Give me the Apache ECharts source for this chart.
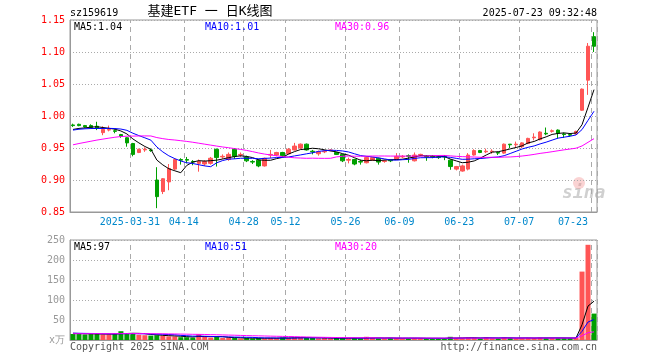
<!DOCTYPE html>
<html><head><meta charset="utf-8">
<script src="https://cdn.jsdelivr.net/npm/echarts@6/dist/echarts.min.js"></script>
<style>html,body{margin:0;padding:0;background:#fff}#c{width:660px;height:360px}</style>
</head><body><div id="c"></div>
<script>
// ---- data ----
const dates = ['2025-03-17','2025-03-18','2025-03-19','2025-03-20','2025-03-21','2025-03-24','2025-03-25','2025-03-26','2025-03-27','2025-03-28','2025-03-31',
'2025-04-01','2025-04-02','2025-04-03','2025-04-07','2025-04-08','2025-04-09','2025-04-10','2025-04-11','2025-04-14','2025-04-15','2025-04-16','2025-04-17','2025-04-18','2025-04-21','2025-04-22','2025-04-23','2025-04-24','2025-04-25','2025-04-28','2025-04-29','2025-04-30',
'2025-05-06','2025-05-07','2025-05-08','2025-05-09','2025-05-12','2025-05-13','2025-05-14','2025-05-15','2025-05-16','2025-05-19','2025-05-20','2025-05-21','2025-05-22','2025-05-23','2025-05-26','2025-05-27','2025-05-28','2025-05-29','2025-05-30',
'2025-06-03','2025-06-04','2025-06-05','2025-06-06','2025-06-09','2025-06-10','2025-06-11','2025-06-12','2025-06-13','2025-06-16','2025-06-17','2025-06-18','2025-06-19','2025-06-20','2025-06-23','2025-06-24','2025-06-25','2025-06-26','2025-06-27','2025-06-30',
'2025-07-01','2025-07-02','2025-07-03','2025-07-04','2025-07-07','2025-07-08','2025-07-09','2025-07-10','2025-07-11','2025-07-14','2025-07-15','2025-07-16','2025-07-17','2025-07-18','2025-07-21','2025-07-22','2025-07-23'];

const opens = [0.986,0.987,0.985,0.985,0.984,0.974,0.978,0.977,0.971,0.966,0.957,
0.943,0.947,0.947,0.900,0.882,0.897,0.917,0.932,0.932,0.929,0.926,0.925,0.926,0.948,0.936,0.932,0.948,0.939,0.936,0.929,0.931,
0.922,0.939,0.939,0.943,0.941,0.947,0.950,0.956,0.945,0.941,0.944,0.946,0.943,0.940,0.931,0.932,0.929,0.927,0.931,
0.934,0.929,0.931,0.932,0.936,0.938,0.930,0.939,0.937,0.937,0.936,0.937,0.931,0.917,0.914,0.917,0.939,0.946,0.944,0.944,
0.943,0.942,0.956,0.955,0.952,0.957,0.966,0.963,0.973,0.976,0.978,0.972,0.971,0.972,1.009,1.056,1.124];
const closes = [0.985,0.985,0.983,0.982,0.981,0.979,0.979,0.976,0.968,0.958,0.940,
0.948,0.948,0.946,0.874,0.902,0.918,0.932,0.931,0.931,0.928,0.929,0.929,0.934,0.935,0.937,0.940,0.937,0.940,0.930,0.928,0.922,
0.934,0.940,0.943,0.938,0.948,0.953,0.956,0.947,0.944,0.944,0.945,0.947,0.940,0.930,0.932,0.925,0.928,0.935,0.935,
0.928,0.930,0.930,0.937,0.937,0.937,0.939,0.940,0.936,0.936,0.935,0.936,0.921,0.921,0.922,0.939,0.946,0.943,0.945,0.945,
0.942,0.956,0.955,0.956,0.958,0.965,0.967,0.975,0.972,0.977,0.973,0.971,0.970,0.976,1.042,1.109,1.109];
const lows = [0.983,0.984,0.982,0.981,0.978,0.970,0.976,0.973,0.966,0.952,0.937,
0.942,0.944,0.944,0.856,0.878,0.884,0.915,0.924,0.926,0.923,0.913,0.922,0.924,0.921,0.933,0.930,0.933,0.936,0.928,0.925,0.920,
0.921,0.934,0.937,0.936,0.940,0.946,0.948,0.946,0.940,0.938,0.942,0.945,0.939,0.928,0.926,0.923,0.924,0.926,0.930,
0.924,0.927,0.928,0.931,0.934,0.927,0.929,0.937,0.930,0.934,0.933,0.931,0.916,0.915,0.913,0.915,0.938,0.942,0.942,0.941,
0.939,0.941,0.950,0.950,0.950,0.956,0.962,0.962,0.970,0.974,0.965,0.966,0.968,0.971,1.008,1.033,1.100];
const highs = [0.988,0.988,0.986,0.987,0.991,0.984,0.985,0.979,0.972,0.967,0.958,
0.949,0.951,0.949,0.920,0.903,0.925,0.934,0.934,0.936,0.931,0.932,0.931,0.936,0.949,0.940,0.943,0.950,0.943,0.938,0.931,0.933,
0.935,0.947,0.944,0.944,0.950,0.958,0.957,0.957,0.947,0.946,0.947,0.948,0.944,0.941,0.935,0.933,0.932,0.937,0.936,
0.935,0.932,0.932,0.942,0.939,0.940,0.943,0.941,0.939,0.939,0.938,0.939,0.932,0.922,0.924,0.942,0.948,0.947,0.949,0.948,
0.944,0.957,0.956,0.960,0.959,0.966,0.973,0.976,0.982,0.979,0.979,0.974,0.972,0.977,1.043,1.114,1.131];
// volume, unit: 10k
const volumes = [15,15,14,17,15,14,14,15,22,16,17,
13,12,11,12,10,9,9,7,7,6,15,8,6,8,5,6,5,4,5,4,5,
4,5,5,6,5,6,7,6,5,4,5,4,5,5,4,5,4,8,5,
4,4,5,5,4,4,5,4,4,4,4,4,8,5,5,6,5,4,7,4,
4,7,5,4,5,5,5,6,5,5,5,5,5,5,171,238,66];
// closes / volumes of the 29 sessions before the window (estimated from where the MA lines start)
const priorCloses = [0.925,0.928,0.930,0.927,0.932,0.935,0.933,0.936,0.940,0.938,
0.942,0.945,0.948,0.950,0.953,0.955,0.958,0.962,0.965,0.968,
0.972,0.976,0.978,0.980,0.979,0.977,0.979,0.976,0.978];
const priorVolumes = [14,16,15,13,15,16,14,15,17,15,14,16,15,13,16,15,14,16,15,17,
18,17,19,16,18,17,16,18,17];
const labelIndex = [10,19,29,36,46,55,65,75,87];
const priceTicks = [0.85,1.15,0.05];
const volTicks = [0,250,50];
const titleCode = 'sz159619';
const titleName = '基建ETF 一 日K线图';
const stamp = '2025-07-23 09:32:48';

// ---- helpers ----
function movingAvg(n, prior, arr) {
  const all = prior.concat(arr);
  return arr.map((_, i) => {
    let s = 0; const j = prior.length + i;
    for (let k = 0; k < n; k++) s += all[j - k];
    return +(s / n).toFixed(4);
  });
}
const ma5 = movingAvg(5, priorCloses, closes), ma10 = movingAvg(10, priorCloses, closes), ma30 = movingAvg(30, priorCloses, closes);
const vma5 = movingAvg(5, priorVolumes, volumes), vma10 = movingAvg(10, priorVolumes, volumes), vma30 = movingAvg(30, priorVolumes, volumes);
const RED = '#FF5555', GREEN = '#00A000';
const isUp = closes.map((c, i) => c > opens[i] || (c === opens[i] && i > 0 && c >= closes[i - 1]));
const kData = dates.map((d, i) => [opens[i], closes[i], lows[i], highs[i]]);
const vData = volumes.map((v, i) => ({ value: v, itemStyle: { color: isUp[i] ? RED : GREEN } }));
const labelSet = new Set(labelIndex);
const MONO = "'DejaVu Sans Mono', monospace";
const last = a => a[a.length - 1];
const pick = (i) => labelSet.has(i);

const L = 70, Wd = 527;
const dashStyle = { color: '#AAAAAA', type: [5, 4], width: 1 };
const txt = (x, y, text, fill, align, font) => ({ type: 'text', x, y, silent: true, z: 100,
  style: { text, fill, align: align || 'left', verticalAlign: 'middle', font: font || ('10px ' + MONO) } });

const chart = echarts.init(document.getElementById('c'), null, { renderer: 'canvas' });
chart.setOption({
  animation: false,
  backgroundColor: '#fff',
  grid: [
    { left: L, width: Wd, top: 20, height: 192, show: true, borderColor: '#999', borderWidth: 1 },
    { left: L, width: Wd, top: 240, height: 100, show: true, borderColor: '#999', borderWidth: 1 }
  ],
  xAxis: [
    { type: 'category', gridIndex: 0, data: dates, boundaryGap: true,
      axisLine: { show: true, lineStyle: { color: '#999' } },
      axisTick: { show: true, inside: true, length: 192, interval: pick, lineStyle: dashStyle },
      axisLabel: { interval: pick, color: '#0088CC', fontFamily: MONO, fontSize: 10, margin: 5,
        padding: [0, 6, 0, 0], alignMaxLabel: 'right',
        formatter: (v, i) => i === labelIndex[0] ? v : v.slice(5) },
      splitLine: { show: false } },
    { type: 'category', gridIndex: 1, data: dates, boundaryGap: true,
      axisLine: { show: true, lineStyle: { color: '#999' } },
      axisTick: { show: true, inside: true, length: 100, interval: pick, lineStyle: dashStyle },
      axisLabel: { show: false, interval: pick },
      splitLine: { show: false } }
  ],
  yAxis: [
    { type: 'value', gridIndex: 0, min: priceTicks[0], max: priceTicks[1], interval: priceTicks[2],
      axisLine: { show: true, lineStyle: { color: '#999' } }, axisTick: { show: false },
      axisLabel: { color: '#FF0000', fontFamily: MONO, fontSize: 10, margin: 5, formatter: v => v.toFixed(2) },
      splitLine: { show: true, lineStyle: { color: '#AAAAAA', type: [1, 2] } } },
    { type: 'value', gridIndex: 1, min: volTicks[0], max: volTicks[1], interval: volTicks[2],
      axisLine: { show: true, lineStyle: { color: '#999' } }, axisTick: { show: false },
      axisLabel: { color: '#999', fontFamily: MONO, fontSize: 10, margin: 5, formatter: v => v === 0 ? 'x万' : String(v) },
      splitLine: { show: true, lineStyle: { color: '#AAAAAA', type: [1, 2] } } }
  ],
  series: [
    { type: 'candlestick', xAxisIndex: 0, yAxisIndex: 0, data: kData, barWidth: 4,
      itemStyle: { color: RED, color0: GREEN, borderColor: RED, borderColor0: GREEN, borderWidth: 1 } },
    { type: 'line', xAxisIndex: 0, yAxisIndex: 0, data: ma5, symbol: 'none', lineStyle: { color: '#000', width: 1 } },
    { type: 'line', xAxisIndex: 0, yAxisIndex: 0, data: ma10, symbol: 'none', lineStyle: { color: '#0000FF', width: 1 } },
    { type: 'line', xAxisIndex: 0, yAxisIndex: 0, data: ma30, symbol: 'none', lineStyle: { color: '#FF00FF', width: 1 } },
    { type: 'bar', xAxisIndex: 1, yAxisIndex: 1, data: vData, barWidth: 5 },
    { type: 'line', xAxisIndex: 1, yAxisIndex: 1, data: vma5, symbol: 'none', lineStyle: { color: '#000', width: 1 } },
    { type: 'line', xAxisIndex: 1, yAxisIndex: 1, data: vma10, symbol: 'none', lineStyle: { color: '#0000FF', width: 1 } },
    { type: 'line', xAxisIndex: 1, yAxisIndex: 1, data: vma30, symbol: 'none', lineStyle: { color: '#FF00FF', width: 1 } }
  ],
  graphic: [
    { type: 'text', x: 562, y: 193, silent: true, z: -1,
      style: { text: 'sina', fill: '#D0D0D0', font: 'italic bold 18px ' + MONO, align: 'left', verticalAlign: 'middle' } },
    { type: 'circle', shape: { cx: 579, cy: 183, r: 6 }, silent: true, z: -1, style: { fill: 'rgba(240,130,130,0.35)' } },
    txt(70, 13, titleCode, '#000'),
    txt(210, 12, titleName, '#000', 'center', "13px 'DejaVu Sans Mono', 'Noto Sans CJK SC', monospace"),
    txt(597, 13, stamp, '#000', 'right'),
    txt(74, 27, 'MA5:' + last(ma5).toFixed(2), '#000'),
    txt(205, 27, 'MA10:' + last(ma10).toFixed(2), '#0000FF'),
    txt(335, 27, 'MA30:' + last(ma30).toFixed(2), '#FF00FF'),
    txt(74, 247, 'MA5:' + Math.round(last(vma5)), '#000'),
    txt(205, 247, 'MA10:' + Math.round(last(vma10)), '#0000FF'),
    txt(335, 247, 'MA30:' + Math.round(last(vma30)), '#FF00FF'),
    txt(70, 347, 'Copyright 2025 SINA.COM', '#555'),
    txt(597, 347, 'http://finance.sina.com.cn', '#555', 'right')
  ]
});
</script>
</body></html>
